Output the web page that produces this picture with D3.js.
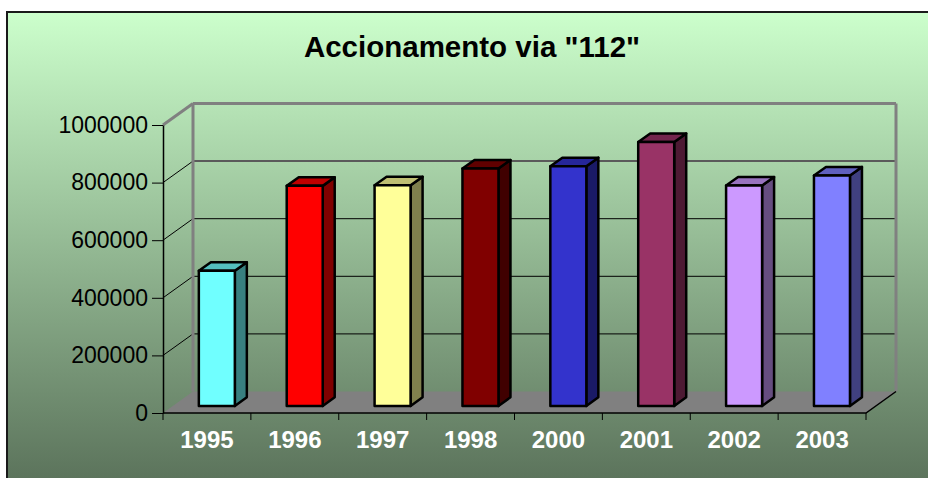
<!DOCTYPE html>
<html>
<head>
<meta charset="utf-8">
<script src="https://cdn.jsdelivr.net/npm/d3@7"></script>
<style>
  body { margin: 0; background: #ffffff; }
  svg { display: block; }
</style>
</head>
<body>
<svg id="chart"></svg>
<script>
var title = 'Accionamento via "112"';
var years = ["1995", "1996", "1997", "1998", "2000", "2001", "2002", "2003"];
var calls = [469000, 764000, 766000, 824000, 832000, 916000, 765000, 800000];
var barColors = ["#70ffff", "#ff0000", "#ffff99", "#800000", "#3333cc", "#993366", "#cc99ff", "#8080ff"];
var yTicks = [0, 200000, 400000, 600000, 800000, 1000000];

var width = 928, height = 478;
var font = '"Liberation Sans", Arial, sans-serif';
var depth = {x: 30, y: -21.5};   // back wall offset
var barFront = 0.33, barDepth = 0.4;  // bar position inside the depth
var barWidth = 36;

var svg = d3.select("#chart")
    .attr("width", width)
    .attr("height", height);

var defs = svg.append("defs");
var grad = defs.append("linearGradient")
    .attr("id", "bg")
    .attr("x1", 0).attr("y1", 0)
    .attr("x2", 0).attr("y2", 1);
grad.append("stop").attr("offset", "0%").attr("stop-color", "#ccffcc");
grad.append("stop").attr("offset", "100%").attr("stop-color", "#5c745c");

// chart area
svg.append("rect")
    .attr("x", 7).attr("y", 12)
    .attr("width", width - 7).attr("height", height - 12)
    .attr("fill", "url(#bg)");
svg.append("path")
    .attr("d", "M7," + height + "V12H" + width)
    .attr("fill", "none")
    .attr("stroke", "#1a1a1a")
    .attr("stroke-width", 2);

svg.append("text")
    .attr("x", 472)
    .attr("y", 57)
    .attr("text-anchor", "middle")
    .style("font-family", font)
    .style("font-size", "29.5px")
    .style("font-weight", "bold")
    .attr("fill", "#000")
    .text(title);

var xScale = d3.scaleBand()
    .domain(years)
    .range([163, 866]);

var yScale = d3.scaleLinear()
    .domain([0, 1000000])
    .range([413, 125]);

var x0 = xScale.range()[0], x1 = xScale.range()[1];

// back wall grid + side wall diagonals
var grid = svg.append("g");
yTicks.forEach(function (t) {
    if (t === 0) return;
    var yy = yScale(t);
    var edge = (t === 1000000);
    var mid = (t === 800000);
    grid.append("line")
        .attr("x1", x0 + depth.x).attr("y1", yy + depth.y)
        .attr("x2", x1 + depth.x).attr("y2", yy + depth.y)
        .attr("stroke", edge ? "#808080" : (mid ? "#5a5a5a" : "#000"))
        .attr("stroke-width", edge ? 3 : (mid ? 2 : 1));
    grid.append("line")
        .attr("x1", x0).attr("y1", yy)
        .attr("x2", x0 + depth.x).attr("y2", yy + depth.y)
        .attr("stroke", edge ? "#808080" : "#000")
        .attr("stroke-width", edge ? 3 : 1);
});
[x0, x1].forEach(function (xx) {
    grid.append("line")
        .attr("x1", xx + depth.x).attr("y1", yScale(1000000) + depth.y)
        .attr("x2", xx + depth.x).attr("y2", yScale(0) + depth.y)
        .attr("stroke", "#808080")
        .attr("stroke-width", 3);
});

// floor
var y0 = yScale(0);
svg.append("path")
    .attr("d", "M" + x0 + "," + y0 + "L" + (x0 + depth.x) + "," + (y0 + depth.y) +
        "L" + (x1 + depth.x) + "," + (y0 + depth.y) + "L" + x1 + "," + y0 + "Z")
    .attr("fill", "#808080");
svg.append("path")
    .attr("d", "M" + x0 + "," + y0 + "H" + x1 + "L" + (x1 + depth.x) + "," + (y0 + depth.y))
    .attr("fill", "none")
    .attr("stroke", "#000")
    .attr("stroke-width", 1.5);

// y axis
var yAxis = svg.append("g")
    .attr("transform", "translate(" + x0 + ",0)")
    .call(d3.axisLeft(yScale).tickValues(yTicks).tickFormat(d3.format("d"))
        .tickSize(11).tickSizeOuter(0).tickPadding(4));
yAxis.select(".domain").attr("stroke", "#000").attr("stroke-width", 1.5);
yAxis.selectAll(".tick line").attr("stroke", "#000");
yAxis.selectAll("text")
    .style("font-family", font)
    .style("font-size", "23px")
    .attr("fill", "#000");

// x axis
var xAxis = svg.append("g")
    .attr("transform", "translate(0," + y0 + ")")
    .call(d3.axisBottom(xScale).tickSize(0).tickPadding(18));
xAxis.select(".domain").remove();
xAxis.selectAll("text")
    .style("font-family", font)
    .style("font-size", "24px")
    .style("font-weight", "bold")
    .attr("fill", "#fff");
xAxis.selectAll(".bound")
    .data(years.concat(["end"]))
    .enter().append("line")
    .attr("class", "bound")
    .attr("x1", function (d, i) { return x0 + i * xScale.step(); })
    .attr("x2", function (d, i) { return x0 + i * xScale.step(); })
    .attr("y1", 0).attr("y2", 7)
    .attr("stroke", "#000");

// bars
function shade(c, k) {
    var r = d3.rgb(c);
    return d3.rgb(r.r * k, r.g * k, r.b * k).formatHex();
}

var bars = svg.selectAll(".bar")
    .data(years)
    .enter().append("g")
    .attr("class", "bar");

bars.each(function (d, i) {
    var g = d3.select(this);
    var fx = xScale(d) + (xScale.bandwidth() - barWidth) / 2 + barFront * depth.x;
    var fy = yScale(calls[i]) + barFront * depth.y;
    var by = yScale(0) + barFront * depth.y;
    var ddx = barDepth * depth.x, ddy = barDepth * depth.y;
    var fill = barColors[i];
    var style = function (sel, c) {
        sel.attr("fill", c)
            .attr("stroke", "#000")
            .attr("stroke-width", 2.5)
            .attr("stroke-linejoin", "round");
    };
    g.append("path")
        .attr("d", "M" + (fx + barWidth) + "," + fy + "L" + (fx + barWidth + ddx) + "," + (fy + ddy) +
            "L" + (fx + barWidth + ddx) + "," + (by + ddy) + "L" + (fx + barWidth) + "," + by + "Z")
        .call(style, shade(fill, 0.5));
    g.append("path")
        .attr("d", "M" + fx + "," + fy + "L" + (fx + ddx) + "," + (fy + ddy) +
            "L" + (fx + barWidth + ddx) + "," + (fy + ddy) + "L" + (fx + barWidth) + "," + fy + "Z")
        .call(style, shade(fill, 0.75));
    g.append("rect")
        .attr("x", fx).attr("y", fy)
        .attr("width", barWidth).attr("height", by - fy)
        .call(style, fill);
});
</script>
</body>
</html>
